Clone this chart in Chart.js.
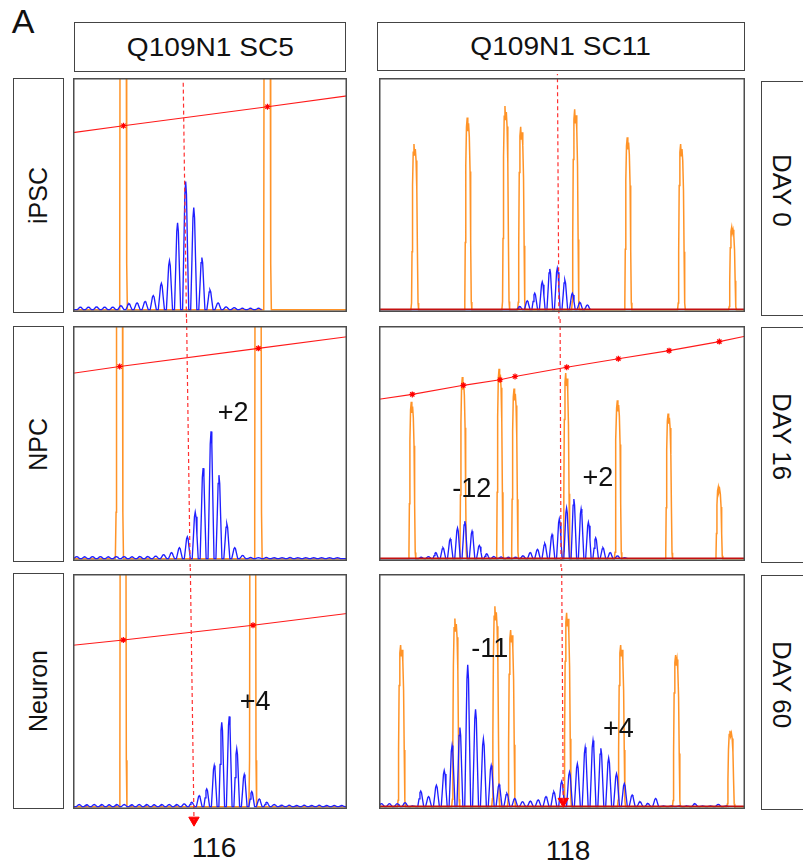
<!DOCTYPE html>
<html>
<head>
<meta charset="utf-8">
<script src="https://cdn.jsdelivr.net/npm/chart.js@4.4.0/dist/chart.umd.min.js"></script>
<style>
html, body { margin: 0; padding: 0; overflow: hidden; }
body { width: 803px; height: 865px; position: relative; background: #fff;
       font-family: "Liberation Sans", Arial, sans-serif; color: #111; }
.box { position: absolute; box-sizing: border-box; border: 1.5px solid #444;
       display: flex; align-items: center; justify-content: center; }
.head span { font-size: 26px; transform: scaleX(1.08); display: inline-block; }
.up span { writing-mode: vertical-rl; transform: rotate(180deg); font-size: 25px; }
.down span { writing-mode: vertical-rl; font-size: 26px; }
.panel { position: absolute; }
.txt { position: absolute; transform: translate(-50%, -50%); white-space: nowrap; }
</style>
</head>
<body>
<div class="txt" style="left:23px; top:21px; font-size:34px;">A</div>
<div class="box head" style="left:74px; top:22px; width:272px; height:50px;"><span>Q109N1 SC5</span></div>
<div class="box head" style="left:377px; top:22px; width:368px; height:49px;"><span>Q109N1 SC11</span></div>

<div class="box up" style="left:13px; top:78px; width:51px; height:235px;"><span>iPSC</span></div>
<div class="box up" style="left:13px; top:326px; width:51px; height:236px;"><span>NPC</span></div>
<div class="box up" style="left:13px; top:573px; width:51px; height:236px;"><span>Neuron</span></div>

<div class="box down" style="left:761px; top:81px; width:46px; height:235px; padding:0 6px 16px 0;"><span>DAY 0</span></div>
<div class="box down" style="left:761px; top:327px; width:46px; height:236px; padding:0 6px 16px 0;"><span>DAY 16</span></div>
<div class="box down" style="left:761px; top:575px; width:46px; height:235px; padding:0 6px 16px 0;"><span>DAY 60</span></div>

<div class="txt" id="allele5" style="left:214px; top:848px; font-size:28px;"></div>
<div class="txt" id="allele11" style="left:568px; top:851px; font-size:28px;"></div>

<script>
// allele (CAG repeats) marked by the dashed line in each column
const alleleSC5 = 116;
const alleleSC11 = 118;

// ---------- Q109N1 SC5 ----------
// blue trace: repeat of the first peak, then peak heights (% of full scale)
const sc5IpscFirst = 103;
const sc5IpscBlue = [1.1, 1.1, 1.2, 1.1, 1.1, 1.7, 2.6, 2.9, 3.5, 6.1, 11.4, 21.1, 37.5, 55.3, 44.1, 22.5, 8.5, 2.9, 1.2, 0.9, 0.6, 0.6, 0.6];
const sc5NpcFirst = 102;
const sc5NpcBlue = [0.9, 0.8, 0.9, 0.9, 0.8, 0.9, 0.9, 0.8, 0.9, 0.9, 1.1, 1.7, 2.6, 4.7, 9.4, 20.0, 38.9, 54.7, 35.9, 15.0, 4.7, 1.4, 0.5, 0.4, 0.5, 0.4, 0.4, 0.5, 0.4, 0.4, 0.4, 0.4, 0.4, 0.4];
const sc5NeuronFirst = 101;
const sc5NeuronBlue = [0.9, 0.8, 0.9, 0.9, 0.8, 0.9, 0.9, 0.8, 0.9, 0.9, 0.8, 0.9, 0.9, 0.9, 1.2, 1.9, 4.7, 7.6, 17.7, 36.3, 38.8, 24.9, 13.8, 6.5, 3.3, 1.9, 0.9, 0.6, 0.6, 0.5, 0.6, 0.5, 0.6, 0.5, 0.5, 0.5];

// orange size-standard peaks (position in repeat units, height %), off scale here
const sc5IpscLadderX = [108.32, 126.1];
const sc5IpscLadderY = [500, 500];
const sc5NpcLadderX = [107.44, 124.99];
const sc5NpcLadderY = [500, 500];
const sc5NeuronLadderX = [106.88, 124.17];
const sc5NeuronLadderY = [500, 500];

// red sizing curve: left edge, at each ladder peak, right edge (%)
const sc5IpscSizing = [76.4, 79.4, 87.6, 92.3];
const sc5NpcSizing = [79.7, 82.6, 90.4, 95.4];
const sc5NeuronSizing = [69.4, 71.6, 78.0, 83.0];

// dashed allele line: x at top, x at bottom of each panel
const sc5IpscMark = [115.7, 116.13];
const sc5NpcMark = [115.87, 116.39];
const sc5NeuronMark = [115.77, 116.3];

const sc5NpcNotes = [['+2', 121.8, 62.5]];
const sc5NeuronNotes = [['+4', 124.44, 44.9]];

// ---------- Q109N1 SC11 ----------
const sc11IpscFirst = 113;
const sc11IpscBlue = [1.4, 3.8, 7.1, 12.0, 17.6, 17.9, 12.8, 7.1, 3.1, 2.0];
const sc11NpcFirst = 99;
const sc11NpcBlue = [0.6, 0.9, 2.6, 4.7, 8.5, 13.2, 16.1, 11.8, 5.7, 2.1, 0.9, 0.7, 0.6, 0.6, 1.2, 2.6, 4.0, 6.5, 10.4, 17.1, 21.8, 25.6, 21.4, 15.7, 9.0, 4.7, 2.6, 1.2, 0.4];
const sc11NeuronFirst = 95;
const sc11NeuronBlue = [1.3, 1.3, 1.3, 1.7, 0.3, 6.7, 4.3, 9.2, 15.6, 26.3, 34.0, 61.0, 41.8, 29.1, 17.7, 9.5, 5.7, 3.5, 2.1, 2.4, 2.9, 4.3, 6.4, 10.9, 14.9, 18.4, 25.5, 28.4, 25.1, 20.9, 14.2, 9.9, 5.0, 2.1, 1.4, 3.5, 0.3, 0.3, 0.3, 0.3, 1.3, 0.3, 0.3, 1.0, 0.3];

const sc11IpscLadderX = [99.08, 106.16, 111.18, 113.27, 120.45, 127.44, 134.54, 141.33];
const sc11IpscLadderY = [71.5, 82.9, 87.9, 78.9, 86.5, 74.4, 71.5, 35.6];
const sc11NpcLadderX = [97.78, 104.8, 109.85, 111.91, 119.02, 126.12, 133.1, 140.01];
const sc11NpcLadderY = [67.4, 78.1, 81.6, 73.1, 79.8, 68.1, 62.4, 30.8];
const sc11NeuronLadderX = [97.57, 104.5, 109.61, 111.62, 118.77, 125.67, 132.69, 139.63];
const sc11NeuronLadderY = [69.5, 80.9, 86.1, 75.9, 83.3, 69.5, 65.2, 32.6];

const sc11NpcSizing = [68.5, 70.6, 74.5, 76.9, 78.3, 82.3, 85.9, 89.4, 93.3, 95.6];

const sc11IpscMark = [118.0, 118.23];
const sc11NpcMark = [118.1, 118.24];
const sc11NeuronMark = [117.98, 118.2];

const sc11NpcNotes = [['-12', 105.95, 29.6], ['+2', 123.3, 34.3]];
const sc11NeuronNotes = [['-11', 108.81, 67.5], ['+4', 125.23, 33.3]];

document.getElementById('allele5').textContent = alleleSC5;
document.getElementById('allele11').textContent = alleleSC11;

// peak outlines: [offset in repeats, fraction of peak height]
const SHAPE_BLUE = [[-0.38, 0], [-0.22, 0.5], [-0.1, 0.9], [0, 1], [0.1, 0.9], [0.22, 0.5], [0.38, 0]];
const SHAPE_LADDER = [[-0.55, 0], [-0.46, 0.04], [-0.4, 0.35], [-0.33, 0.75], [-0.24, 0.95], [-0.14, 1],
  [-0.06, 0.93], [0.04, 0.97], [0.14, 0.9], [0.24, 0.72], [0.32, 0.35], [0.4, 0.04], [0.48, 0]];

function trace(xs, hs, shape) {
  const out = [];
  xs.forEach((x, i) => shape.forEach(([dx, f]) => out.push({ x: x + dx, y: hs[i] * f })));
  return out;
}
function repeats(first, n) {
  return Array.from({ length: n }, (_, i) => first + i);
}

// panel frame (box ends at y = -1) and the +n / -n labels
const framePlugin = {
  id: 'frame',
  afterDatasetsDraw(chart, args, opts) {
    const a = chart.chartArea, c = chart.ctx;
    const bottom = chart.scales.y.getPixelForValue(-1);
    c.save();
    c.strokeStyle = '#4d4d4d';
    c.lineWidth = 1.5;
    c.strokeRect(a.left + 0.75, a.top + 0.75, a.right - a.left - 1.5, bottom - a.top - 1.5);
    c.font = '27px "Liberation Sans", Arial, sans-serif';
    c.fillStyle = '#111';
    c.textAlign = 'center';
    c.textBaseline = 'middle';
    (opts.notes || []).forEach(([t, x, y]) => {
      c.fillText(t, chart.scales.x.getPixelForValue(x), chart.scales.y.getPixelForValue(y));
    });
    c.restore();
  }
};

function drawPanel(box, d) {
  const wrap = document.createElement('div');
  wrap.className = 'panel';
  wrap.style.left = box.left + 'px';
  wrap.style.top = (box.top - box.padT) + 'px';
  const cv = document.createElement('canvas');
  cv.width = box.w;
  cv.height = box.h + box.padT + box.padB;
  wrap.appendChild(cv);
  document.body.appendChild(wrap);

  const blue = trace(repeats(d.first, d.blue.length), d.blue, SHAPE_BLUE);
  blue.unshift({ x: d.xMin, y: 0 });
  if (d.blueTail) blue.push({ x: d.xMax, y: 0 });
  const ladder = [{ x: d.xMin, y: 0 }, ...trace(d.ladderX, d.ladderY, SHAPE_LADDER), { x: d.xMax, y: 0 }];

  const datasets = [];
  datasets.push({
    data: [{ x: d.mark[0], y: d.markY[0] }, { x: d.mark[1], y: d.markY[1] }],
    borderColor: '#ff3030', borderWidth: 1.2, borderDash: [4, 3], clip: false
  });
  if (d.arrow) {
    datasets.push({
      data: [{ x: d.mark[1], y: d.markY[1] }], showLine: false, pointStyle: 'triangle', rotation: 180,
      pointRadius: 6, backgroundColor: '#ff0000', borderColor: '#ff0000', borderWidth: 1, clip: false
    });
  }
  if (d.sizing) {
    const s = d.sizing;
    const pts = [{ x: d.xMin, y: s[0] }, ...d.ladderX.map((x, i) => ({ x: x, y: s[i + 1] })), { x: d.xMax, y: s[s.length - 1] }];
    datasets.push({
      data: pts, borderColor: '#ff1a1a', borderWidth: 1.1, pointStyle: 'star',
      pointRadius: ctx => (ctx.dataIndex === 0 || ctx.dataIndex === pts.length - 1) ? 0 : 3,
      pointBorderColor: '#ff0000', pointBorderWidth: 1.2
    });
  }
  if (d.floor) {
    datasets.push({ data: [{ x: d.xMin, y: 0.2 }, { x: d.xMax, y: 0.2 }], borderColor: '#c41010', borderWidth: 1.6 });
  }
  datasets.push({ data: blue, borderColor: '#1f1fff', borderWidth: 1.35 });
  datasets.push({ data: ladder, borderColor: 'rgba(255,135,15,0.9)', borderWidth: 1.5 });

  new Chart(cv, {
    type: 'line',
    data: { datasets: datasets },
    options: {
      responsive: false,
      animation: false,
      events: [],
      layout: { autoPadding: false, padding: { top: box.padT, bottom: box.padB, left: 0, right: 0 } },
      elements: { point: { radius: 0 }, line: { tension: 0 } },
      scales: {
        x: { type: 'linear', min: d.xMin, max: d.xMax, display: false },
        y: { min: box.yMin, max: 100, display: false }
      },
      plugins: { legend: { display: false }, tooltip: { enabled: false }, frame: { notes: d.notes } }
    },
    plugins: [framePlugin]
  });
}

// left column (SC5); the last panel's plot area reaches down to the arrow below its frame
drawPanel({ left: 73, top: 78, w: 274, h: 234, padT: 4, padB: 7, yMin: -1 },
  { xMin: 102.09, xMax: 135.92, first: sc5IpscFirst, blue: sc5IpscBlue, blueTail: false,
    ladderX: sc5IpscLadderX, ladderY: sc5IpscLadderY, sizing: sc5IpscSizing,
    mark: sc5IpscMark, markY: [98, -12], notes: [] });
drawPanel({ left: 73, top: 326, w: 274, h: 235, padT: 7, padB: 6, yMin: -1 },
  { xMin: 101.53, xMax: 136.21, first: sc5NpcFirst, blue: sc5NpcBlue, blueTail: true,
    ladderX: sc5NpcLadderX, ladderY: sc5NpcLadderY, sizing: sc5NpcSizing,
    mark: sc5NpcMark, markY: [112, -12], notes: sc5NpcNotes });
drawPanel({ left: 73, top: 574, w: 274, h: 255, padT: 6, padB: 0, yMin: -9.6 },
  { xMin: 100.17, xMax: 136.7, first: sc5NeuronFirst, blue: sc5NeuronBlue, blueTail: true,
    ladderX: sc5NeuronLadderX, ladderY: sc5NeuronLadderY, sizing: sc5NeuronSizing,
    mark: sc5NeuronMark, markY: [112, -5.8], arrow: true, notes: sc5NeuronNotes });

// right column (SC11)
drawPanel({ left: 379, top: 78, w: 366, h: 234, padT: 4, padB: 7, yMin: -1 },
  { xMin: 94.29, xMax: 142.96, first: sc11IpscFirst, blue: sc11IpscBlue, blueTail: false,
    ladderX: sc11IpscLadderX, ladderY: sc11IpscLadderY, floor: true,
    mark: sc11IpscMark, markY: [112, -12], notes: [] });
drawPanel({ left: 379, top: 326, w: 366, h: 235, padT: 7, padB: 6, yMin: -1 },
  { xMin: 93.2, xMax: 143.54, first: sc11NpcFirst, blue: sc11NpcBlue, blueTail: false,
    ladderX: sc11NpcLadderX, ladderY: sc11NpcLadderY, sizing: sc11NpcSizing, floor: true,
    mark: sc11NpcMark, markY: [112, -12], notes: sc11NpcNotes });
drawPanel({ left: 379, top: 574, w: 366, h: 235, padT: 6, padB: 6, yMin: -1 },
  { xMin: 94.67, xMax: 141.41, first: sc11NeuronFirst, blue: sc11NeuronBlue, blueTail: false,
    ladderX: sc11NeuronLadderX, ladderY: sc11NeuronLadderY, floor: true,
    mark: sc11NeuronMark, markY: [112, 2.3], arrow: true, notes: sc11NeuronNotes });
</script>
</body>
</html>
